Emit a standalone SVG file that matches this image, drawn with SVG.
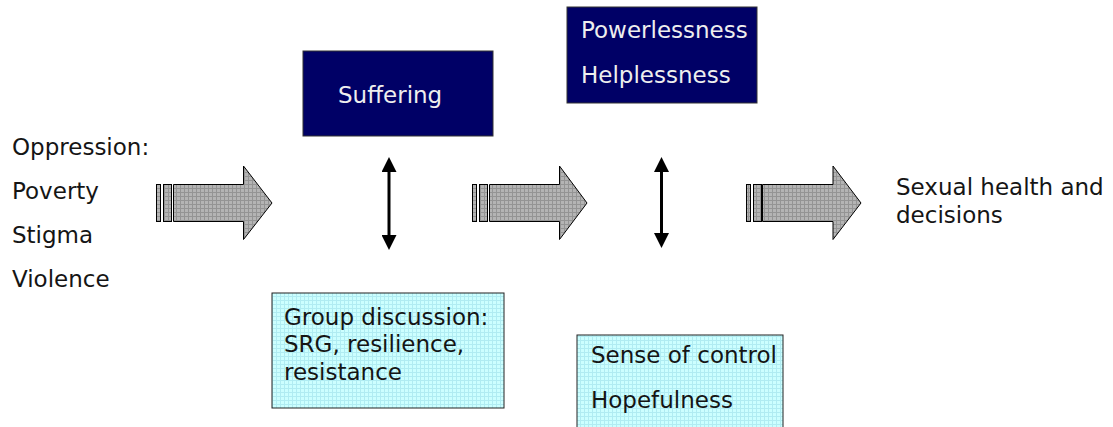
<svg xmlns="http://www.w3.org/2000/svg" width="1113" height="427" viewBox="0 0 1113 427">
<style>
text{font-family:"DejaVu Sans","Liberation Sans",sans-serif;font-size:23px;fill:#151515}
.dark{fill:#000066;stroke:#333;stroke-width:1}
.dark-t{fill:#eeeeee}
.light{fill:url(#cyan);stroke:#222;stroke-width:1}
.block{fill:url(#gray);stroke:#000;stroke-width:1}
.dbl{stroke:#000;stroke-width:3;fill:none;marker-start:url(#ah);marker-end:url(#ah)}
</style>
<defs>
<pattern id="gray" width="4" height="4" patternUnits="userSpaceOnUse">
<rect width="4" height="4" fill="#b4b4b4"/>
<rect width="4" height="1" fill="#949494"/>
<rect width="1" height="4" fill="#949494"/>
</pattern>
<pattern id="cyan" width="4" height="4" patternUnits="userSpaceOnUse">
<rect width="4" height="4" fill="#ccffff"/>
<rect width="4" height="1" fill="#b0ecf2"/>
<rect width="1" height="4" fill="#b0ecf2"/>
</pattern>
<marker id="ah" viewBox="0 0 10 10" refX="2" refY="5" markerWidth="5" markerHeight="5" orient="auto-start-reverse" markerUnits="strokeWidth">
<path d="M0,0 L10,5 L0,10 Z" fill="#000"/>
</marker>
</defs>

<g id="oppression">
<text x="12" y="155">Oppression:</text>
<text x="12" y="199">Poverty</text>
<text x="12" y="243">Stigma</text>
<text x="12" y="287">Violence</text>
</g>

<g id="suffering">
<rect class="dark" x="303" y="51" width="190" height="85"/>
<text class="dark-t" x="338" y="103">Suffering</text>
</g>

<g id="powerlessness">
<rect class="dark" x="567" y="7" width="190" height="96"/>
<text class="dark-t" x="581" y="38">Powerlessness</text>
<text class="dark-t" x="581" y="83">Helplessness</text>
</g>

<g id="group-discussion">
<rect class="light" x="272" y="293" width="232" height="115"/>
<text x="284" y="325">Group discussion:</text>
<text x="284" y="352">SRG, resilience,</text>
<text x="284" y="380">resistance</text>
</g>

<g id="sense-of-control">
<rect class="light" x="577" y="335" width="206" height="100"/>
<text x="591" y="363">Sense of control</text>
<text x="591" y="408">Hopefulness</text>
</g>

<g id="outcome">
<text x="896" y="195">Sexual health and</text>
<text x="896" y="223">decisions</text>
</g>

<g id="connectors">
<g id="arrow1">
<rect class="block" x="156.5" y="184.5" width="4" height="37"/>
<rect class="block" x="163.5" y="184.5" width="8" height="37"/>
<path class="block" d="M173.5,184.5 H243.5 V166 L272,203 L243.5,239.5 V221.5 H173.5 Z"/>
</g>
<g id="arrow2">
<rect class="block" x="472.5" y="184.5" width="4" height="37"/>
<rect class="block" x="479.5" y="184.5" width="8" height="37"/>
<path class="block" d="M489.5,184.5 H559.5 V166 L587,203 L559.5,239.5 V221.5 H489.5 Z"/>
</g>
<g id="arrow3">
<rect class="block" x="746.5" y="184.5" width="4" height="37"/>
<rect class="block" x="753.5" y="184.5" width="8" height="37"/>
<path class="block" d="M762.5,184.5 H833 V166 L861,203 L833,239.5 V221.5 H762.5 Z"/>
</g>
<line class="dbl" x1="389" y1="169" x2="389" y2="238"/>
<line class="dbl" x1="661.5" y1="169" x2="661.5" y2="236"/>
</g>
</svg>
